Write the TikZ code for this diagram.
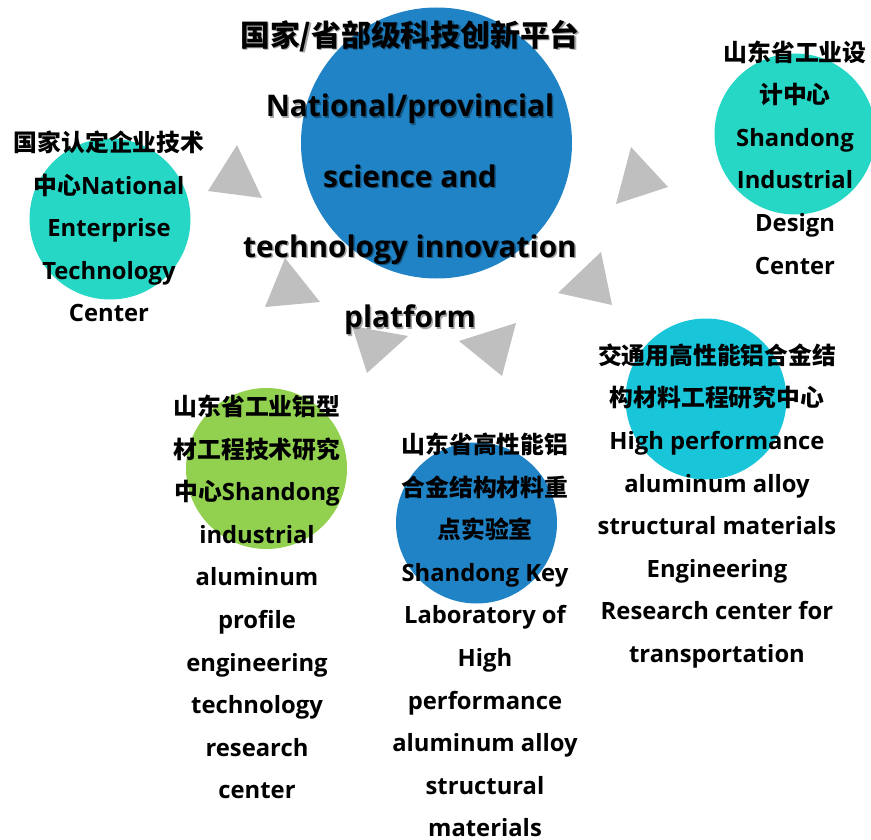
\documentclass[tikz,border=0pt]{standalone}
\usepackage{fontspec}
\setmainfont{Open Sans}
\newfontfamily\cjk{Noto Sans CJK SC Bold}
\definecolor{cblue}{RGB}{31,131,198}
\definecolor{cteal}{RGB}{39,215,197}
\definecolor{ccyan}{RGB}{25,197,217}
\definecolor{cgreen}{RGB}{146,208,80}
\definecolor{tri}{RGB}{191,191,191}
\tikzset{
  circ/.style={circle, draw=none, inner sep=0pt, minimum size=161pt},
  lbl/.style={align=center, inner sep=0pt, text=black,
    font={\bfseries\fontsize{23.8}{42.6}\selectfont}},
  biglbl/.style={align=center, inner sep=0pt, text=black,
    font={\bfseries\fontsize{29.8}{70.3}\selectfont}},
  arrowtri/.style={fill=tri, draw=none}
}
\begin{document}
\begin{tikzpicture}[x=1pt,y=-1pt]
\useasboundingbox (0,0) rectangle (871,840);
% circles
\node[circ, fill=cblue, minimum size=271pt] (c0) at (436.5,143) {};
\node[circ, fill=cteal] (c1) at (110,219) {};
\node[circ, fill=cteal] (c2) at (795,134) {};
\node[circ, fill=ccyan] (c3) at (706,399) {};
\node[circ, fill=cgreen] (c4) at (266.5,468.5) {};
\node[circ, fill=cblue] (c5) at (476.5,523) {};
% triangles
\fill[arrowtri] (237,145) -- (208,191) -- (262,198) -- cycle;
\fill[arrowtri] (285,258) -- (265,307) -- (320,302) -- cycle;
\fill[arrowtri] (631,147) -- (616,204) -- (668,187) -- cycle;
\fill[arrowtri] (601,252) -- (558,293) -- (612,305) -- cycle;
\fill[arrowtri] (352,326) -- (367,373) -- (408,336) -- cycle;
\fill[arrowtri] (516,323) -- (459,341) -- (502,376) -- cycle;
% labels
\node[biglbl, text=black, text opacity=0.35] (t0s) at (411.5,179) {{\cjk 国家/省部级科技创新平台}\\National/provincial\\science and\\technology innovation\\platform};
\node[biglbl] (t0) at (410,177.5) {{\cjk 国家/省部级科技创新平台}\\National/provincial\\science and\\technology innovation\\platform};
\node[lbl] (t1) at (109,226.5) {{\cjk 国家认定企业技术}\\{\cjk 中心}National\\Enterprise\\Technology\\Center};
\node[lbl] (t2) at (795,157.5) {{\cjk 山东省工业设}\\{\cjk 计中心}\\Shandong\\Industrial\\Design\\Center};
\node[lbl] (t3) at (717,506) {{\cjk 交通用高性能铝合金结}\\{\cjk 构材料工程研究中心}\\High performance\\aluminum alloy\\structural materials\\Engineering\\Research center for\\transportation};
\node[lbl] (t4) at (257,597) {{\cjk 山东省工业铝型}\\{\cjk 材工程技术研究}\\{\cjk 中心}Shandong\\industrial\\aluminum\\profile\\engineering\\technology\\research\\center};
\node[lbl] (t5) at (485,635) {{\cjk 山东省高性能铝}\\{\cjk 合金结构材料重}\\{\cjk 点实验室}\\Shandong Key\\Laboratory of\\High\\performance\\aluminum alloy\\structural\\materials};
\end{tikzpicture}
\end{document}
